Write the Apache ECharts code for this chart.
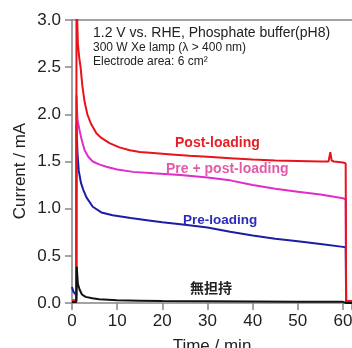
<!DOCTYPE html>
<html>
<head>
<meta charset="utf-8">
<script src="https://cdn.jsdelivr.net/npm/echarts@6/dist/echarts.min.js"></script>
<style>
  html, body { margin: 0; padding: 0; background: #fff; }
  #main { width: 352px; height: 348px; }
</style>
</head>
<body>
<div id="main"></div>
<script>
// time (min) / current (mA)
const postTime = [0, 0.95, 1.0, 1.1, 1.3, 1.6, 1.9, 2.3, 2.8, 3.4, 4.2, 5.4, 6.5, 8.3, 10.5, 12.8, 15, 18, 22, 26, 30, 35, 40, 45, 50, 55, 56.8, 57.2, 57.5, 58, 60, 60.6, 60.7, 62];
const postCurrent = [0.03, 0.03, 3.6, 3.1, 2.75, 2.6, 2.5, 2.3, 2.13, 2.0, 1.9, 1.8, 1.75, 1.695, 1.65, 1.62, 1.6, 1.59, 1.575, 1.56, 1.55, 1.535, 1.52, 1.51, 1.505, 1.5, 1.5, 1.6, 1.51, 1.5, 1.49, 1.48, 0.02, 0.02];

const prePostTime = [0, 0.95, 1.0, 1.2, 1.67, 2.2, 2.8, 3.6, 4.6, 6, 7.6, 10, 13.5, 18, 24, 30, 35, 40, 45, 50, 55, 60, 60.6, 60.7, 62];
const prePostCurrent = [0.02, 0.02, 2.2, 1.95, 1.83, 1.72, 1.62, 1.55, 1.5, 1.47, 1.445, 1.415, 1.39, 1.375, 1.357, 1.33, 1.3, 1.25, 1.21, 1.18, 1.15, 1.11, 1.1, 0.02, 0.02];

const preTime = [0, 0.3, 0.6, 0.95, 1.0, 1.2, 1.5, 2.0, 2.5, 3.2, 4.6, 6.5, 9, 13, 17, 20, 25, 30, 35, 40, 45, 50, 55, 60, 60.6, 60.7, 62];
const preCurrent = [0.17, 0.12, 0.1, 0.08, 1.9, 1.6, 1.4, 1.27, 1.2, 1.12, 1.02, 0.96, 0.93, 0.9, 0.875, 0.855, 0.83, 0.8, 0.755, 0.715, 0.68, 0.655, 0.625, 0.595, 0.59, 0.01, 0.01];

const bareTime = [0, 0.95, 1.05, 1.3, 1.7, 2.2, 3, 4.5, 6, 8, 10, 15, 20, 30, 40, 50, 60, 60.7, 62];
const bareCurrent = [0.01, 0.01, 0.385, 0.2, 0.14, 0.09, 0.065, 0.05, 0.04, 0.035, 0.03, 0.025, 0.02, 0.018, 0.015, 0.013, 0.012, 0.0, 0.0];

const seriesNames = ['Pre-loading', 'Pre + post-loading', 'Post-loading', '無担持'];
const seriesColors = ['#1c1ca4', '#e02cc8', '#e8141b', '#111111'];

const pairs = (t, v) => t.map((x, i) => [x, v[i]]);
const seriesData = [
  pairs(preTime, preCurrent),
  pairs(prePostTime, prePostCurrent),
  pairs(postTime, postCurrent),
  pairs(bareTime, bareCurrent),
];

const FONT = '"Liberation Sans", Arial, sans-serif';
const axisGray = '#858585';

const makeSeries = () => seriesData.map((d, i) => ({
  name: seriesNames[i],
  type: 'line',
  data: d,
  showSymbol: false,
  clip: true,
  lineStyle: { color: seriesColors[i], width: 2 },
  itemStyle: { color: seriesColors[i] },
  z: 2 + i,
}));

const label = (text, x, y, size, color, weight, family) => ({
  type: 'text',
  x, y,
  z: 100,
  style: {
    text, fill: color,
    font: `${weight || 'normal'} ${size}px ${family || FONT}`,
    verticalAlign: 'middle',
  },
});

const options = {
  animation: false,
  grid: { left: 72, right: 0, top: 20, bottom: 45, outerBoundsMode: 'none' },
  xAxis: [
    {
      type: 'value',
      min: 0, max: 62, interval: 10,
      name: 'Time / min',
      nameLocation: 'middle',
      nameGap: 35,
      nameTextStyle: { fontFamily: FONT, fontSize: 17, color: '#222' },
      axisLine: { onZero: false, lineStyle: { color: axisGray, width: 1.5 } },
      axisTick: { length: 7, lineStyle: { color: axisGray, width: 1.5 } },
      axisLabel: {
        margin: 10, fontFamily: FONT, fontSize: 17, color: '#222',
        formatter: (v) => (v % 10 === 0 ? String(v) : ''),
      },
      splitLine: { show: false },
    },
    {
      type: 'value', position: 'top',
      min: 0, max: 62,
      axisLine: { show: true, onZero: false, lineStyle: { color: axisGray, width: 1.5 } },
      axisTick: { show: false },
      axisLabel: { show: false },
      splitLine: { show: false },
    },
  ],
  yAxis: {
    type: 'value',
    min: 0, max: 3, interval: 0.5,
    axisLine: { show: true, onZero: false, lineStyle: { color: axisGray, width: 1.5 } },
    axisTick: { show: true, length: 7, lineStyle: { color: axisGray, width: 1.5 } },
    axisLabel: {
      margin: 11, fontFamily: FONT, fontSize: 17, color: '#222',
      formatter: (v) => v.toFixed(1),
    },
    splitLine: { show: false },
  },
  series: makeSeries(),
  graphic: [
    {
      type: 'text', x: 20, y: 171, rotation: Math.PI / 2, z: 100,
      style: { text: 'Current / mA', fill: '#222', font: `17px ${FONT}`, align: 'center', verticalAlign: 'middle' },
    },
    label('1.2 V vs. RHE, Phosphate buffer(pH8)', 93, 33, 14, '#222'),
    label('300 W Xe lamp (λ > 400 nm)', 93, 48, 12, '#222'),
    label('Electrode area: 6 cm²', 93, 62, 12, '#222'),
    label('Post-loading', 175, 143.5, 14, '#e52127', 'bold'),
    label('Pre + post-loading', 166, 169.5, 14, '#e35aa6', 'bold'),
    label('Pre-loading', 183, 220, 13.5, '#2b2bbb', 'bold'),
    label('無担持', 190, 288, 14, '#222', 'bold', '"Noto Sans CJK JP", sans-serif'),
  ],
};

const myChart = echarts.init(document.getElementById('main'));
myChart.setOption(options);
</script>
</body>
</html>
